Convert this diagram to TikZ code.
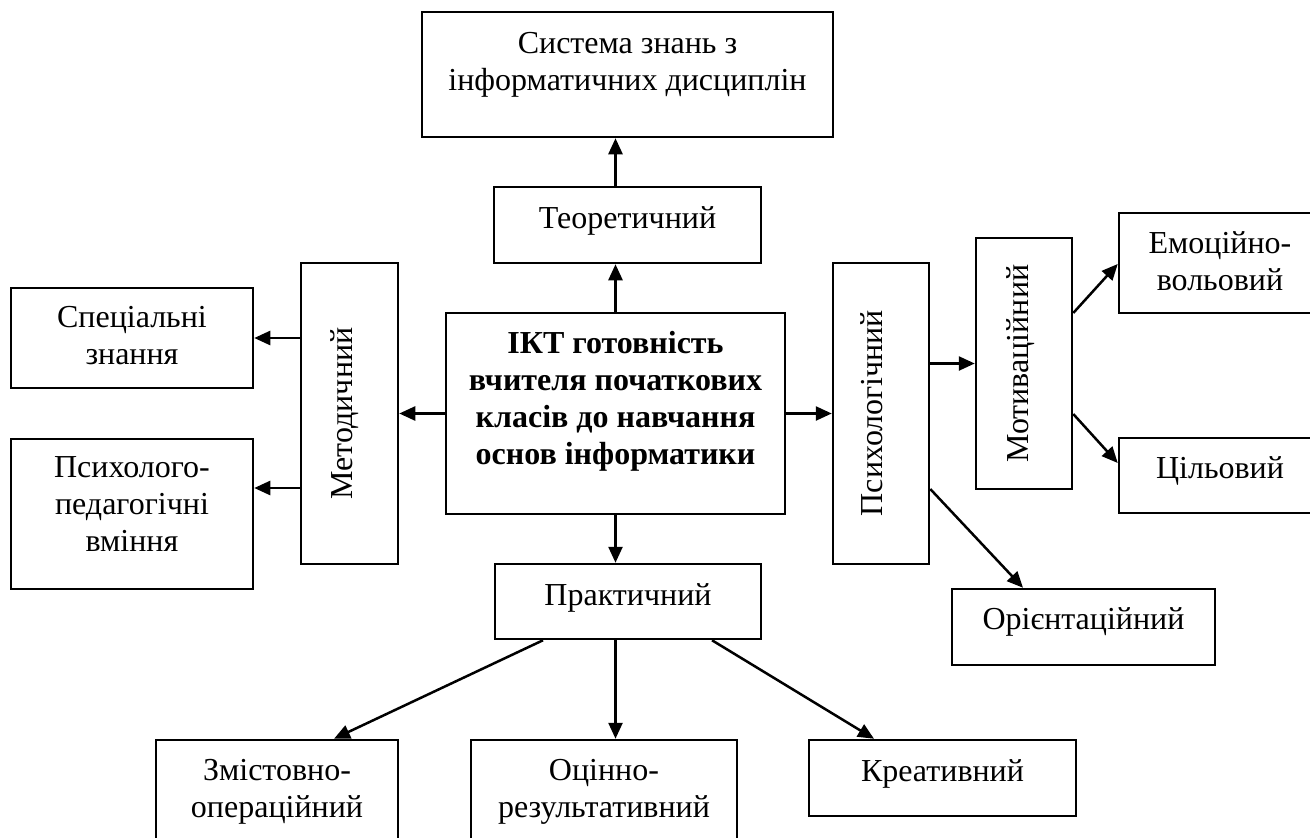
\documentclass[tikz,border=0pt]{standalone}
\usepackage{fontspec}
\setmainfont{Liberation Serif}
\usetikzlibrary{arrows.meta,fit,calc}
\tikzset{
  box/.style={draw=black, line width=2.5pt, inner sep=0pt, fill=none},
  txt/.style={inner sep=0pt, align=center, font=\fontsize{32}{37}\selectfont},
  btxt/.style={txt, font=\fontsize{32}{37}\selectfont\bfseries},
  arr/.style={line width=2.5pt, -{Triangle[length=16pt,width=14pt]}}
}
\begin{document}
\begin{tikzpicture}[x=1pt,y=-1pt]
\useasboundingbox (0,0) rectangle (1310,838);
\fill[white] (0,0) rectangle (1310,838);
% boxes
\node[box, fit={(422,12) (833,137)}] (top) {};
\node[box, fit={(494,187) (761,263)}] (teor) {};
\node[box, fit={(446,313) (785,514)}] (ctr) {};
\node[box, fit={(301,263) (398,564)}] (metod) {};
\node[box, fit={(11,288) (253,388)}] (spets) {};
\node[box, fit={(11,439) (253,589)}] (psp) {};
\node[box, fit={(833,263) (929,564)}] (psych) {};
\node[box, fit={(976,238) (1072,489)}] (motiv) {};
\node[box, fit={(1119,213) (1321,313)}] (emo) {};
\node[box, fit={(1119,438) (1321,513)}] (tsil) {};
\node[box, fit={(952,589) (1215,665)}] (orient) {};
\node[box, fit={(495,564) (761,639)}] (pract) {};
\node[box, fit={(156,740) (398,870)}] (zmist) {};
\node[box, fit={(471,740) (737,870)}] (otsin) {};
\node[box, fit={(809,740) (1076,816)}] (kreat) {};
% texts
\node[txt, anchor=north] (t-top) at (627.5,27.1) {\strut Система знань з\\інформатичних дисциплін};
\node[txt, anchor=base] (t-teor) at (627.5,228) {Теоретичний};
\node[btxt, anchor=north] (t-ctr) at (615.5,327.1) {\strut ІКТ готовність\\вчителя початкових\\класів до навчання\\основ інформатики};
\node[txt, anchor=base, rotate=90] (t-metod) at (352,413.5) {Методичний};
\node[txt, anchor=base, rotate=90] (t-psych) at (882,413) {Психологічний};
\node[txt, anchor=base, rotate=90] (t-motiv) at (1028,363.5) {Мотиваційний};
\node[txt, anchor=north] (t-spets) at (132,301.1) {\strut Спеціальні\\знання};
\node[txt, anchor=north] (t-psp) at (132,451.1) {\strut Психолого-\\педагогічні\\вміння};
\node[txt, anchor=north] (t-emo) at (1220,227.1) {\strut Емоційно-\\вольовий};
\node[txt, anchor=base] (t-tsil) at (1220,478) {Цільовий};
\node[txt, anchor=base] (t-orient) at (1083.5,629) {Орієнтаційний};
\node[txt, anchor=base] (t-pract) at (628,605) {Практичний};
\node[txt, anchor=north] (t-zmist) at (277,754.1) {\strut Змістовно-\\операційний};
\node[txt, anchor=north] (t-otsin) at (604,754.1) {\strut Оцінно-\\результативний};
\node[txt, anchor=base] (t-kreat) at (942.5,781) {Креативний};
% connectors
\draw[arr] (ctr.north |- teor.north) -- (ctr.north |- top.south);
\draw[arr] (ctr.north) -- (ctr.north |- teor.south);
\draw[arr] (ctr.west) -- (metod.east);
\draw[arr] (ctr.east) -- (psych.west);
\draw[arr] (ctr.south) -- (ctr.south |- pract.north);
\draw[arr] (metod.west |- spets.east) -- (spets.east);
\draw[arr] (metod.west |- 0,488) -- (psp.east |- 0,488);
\draw[arr] (psych.east |- motiv.west) -- (motiv.west);
\draw[arr] (motiv.east |- 0,313) -- (emo.west |- 0,264);
\draw[arr] (motiv.east |- 0,414) -- (tsil.west |- 0,463);
\draw[arr] (psych.east |- 0,489) -- (orient.north -| 1023,0);
\draw[arr] (pract.south -| 543,0) -- (zmist.north -| 334,0);
\draw[arr] (pract.south -| ctr.south) -- (otsin.north -| ctr.south);
\draw[arr] (pract.south -| 712,0) -- (kreat.north -| 874,0);
\end{tikzpicture}
\end{document}
